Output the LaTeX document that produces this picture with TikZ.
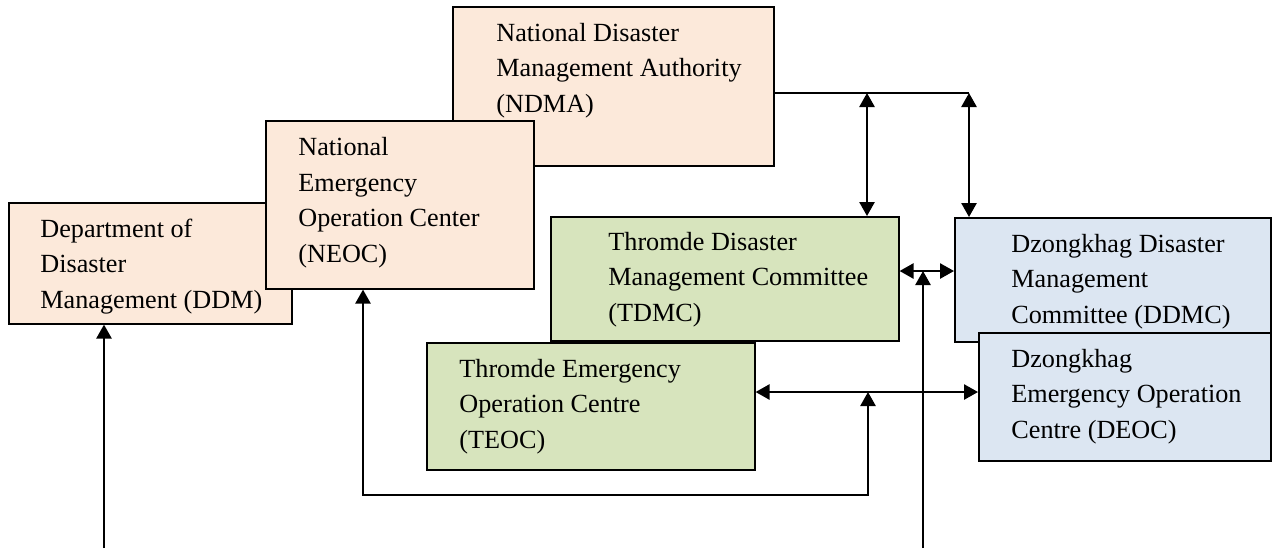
\documentclass[tikz,border=0pt]{standalone}
\usepackage{fontspec}
\setmainfont{Liberation Serif}
\usetikzlibrary{arrows.meta}
\definecolor{peach}{HTML}{FCE9DA}
\definecolor{olive}{HTML}{D7E4BD}
\definecolor{paleblue}{HTML}{DCE6F2}
\begin{document}
\begin{tikzpicture}[x=0.5pt,y=-0.5pt,
    box/.style={draw,line width=0.8pt,inner sep=0pt,anchor=north west},
    txt/.style={anchor=base west,inner sep=0pt,align=left,font=\fontsize{13.1pt}{17.75pt}\selectfont},
    con/.style={line width=1pt},
    arr/.style={con,-{Triangle[length=7pt,width=7.6pt]}},
    dbl/.style={con,{Triangle[length=7pt,width=7.6pt]}-{Triangle[length=7pt,width=7.6pt]}}]
  \useasboundingbox (0,0) rectangle (1272,548);
  \node[box,fill=peach,minimum width=141.5pt,minimum height=60.5pt] (ddm) at (8,202) {};
  \node[txt] (ddmtext) at (40,308) {Department of\\Disaster\\Management (DDM)};
  \node[box,fill=peach,minimum width=160.5pt,minimum height=79.5pt] (ndma) at (452,6) {};
  \node[txt] (ndmatext) at (496,112) {National Disaster\\Management Authority\\(NDMA)};
  \node[box,fill=peach,minimum width=134pt,minimum height=84pt] (neoc) at (265,120) {};
  \node[txt] (neoctext) at (298,262) {National\\Emergency\\Operation Center\\(NEOC)};
  \node[box,fill=olive,minimum width=174pt,minimum height=62pt] (tdmc) at (550,216) {};
  \node[txt] (tdmctext) at (608,321) {Thromde Disaster\\Management Committee\\(TDMC)};
  \node[box,fill=olive,minimum width=164pt,minimum height=63.5pt] (teoc) at (426,342) {};
  \node[txt] (teoctext) at (459,448) {Thromde Emergency\\Operation Centre\\(TEOC)};
  \node[box,fill=paleblue,minimum width=158pt,minimum height=62pt] (ddmc) at (954,217) {};
  \node[txt] (ddmctext) at (1011,323) {Dzongkhag Disaster\\Management\\Committee (DDMC)};
  \node[box,fill=paleblue,minimum width=146pt,minimum height=64pt] (deoc) at (978,332) {};
  \node[txt] (deoctext) at (1011,438) {Dzongkhag\\Emergency Operation\\Centre (DEOC)};
  \coordinate (j1) at (867,93);
  \coordinate (j2) at (969,93);
  \coordinate (j3) at (923,271);
  \coordinate (j4) at (868,392);
  \coordinate (j5) at (868,495);
  \coordinate (c5) at (363,495);
  \coordinate (b1) at (923,548);
  \coordinate (b2) at (104,548);
  \draw[con] (ndma.east |- j2) -- (j2);
  \draw[dbl] (j1) -- (j1 |- tdmc.north);
  \draw[dbl] (j2) -- (j2 |- ddmc.north);
  \draw[dbl] (tdmc.east |- j3) -- (ddmc.west |- j3);
  \draw[arr] (b1) -- (j3);
  \draw[dbl] (teoc.east |- j4) -- (deoc.west |- j4);
  \draw[dbl] (neoc.south -| c5) -- (c5) -- (j5) -- (j4);
  \draw[arr] (b2) -- (b2 |- ddm.south);
\end{tikzpicture}
\end{document}
